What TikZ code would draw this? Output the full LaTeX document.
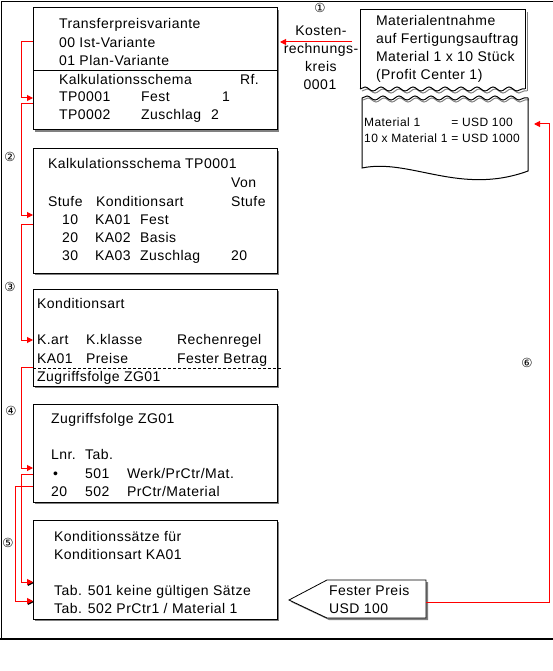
\documentclass[tikz,border=0pt]{standalone}
\usepackage{fontspec}
\setmainfont{Liberation Sans}[LetterSpace=3.5]
\newfontfamily\dejavu{DejaVu Sans}
\usetikzlibrary{arrows.meta,shadows,decorations.pathmorphing}
\definecolor{arrred}{RGB}{255,0,0}
\definecolor{shgray}{RGB}{128,128,128}
\begin{document}
\begin{tikzpicture}[x=1pt,y=-1pt,
 box/.style={draw=black, line width=1pt, fill=white, anchor=north west, inner sep=0pt, outer sep=0pt,
   drop shadow={shadow xshift=2pt, shadow yshift=-2pt, fill=shgray, opacity=1}},
 txt/.style={anchor=west, inner sep=0pt, outer sep=0pt, font=\fontsize{14}{18}\selectfont, text height=11pt, text depth=2pt},
 ctxt/.style={txt, anchor=center},
 num/.style={inner sep=0pt, font=\dejavu\fontsize{12.5}{12.5}\selectfont},
 conn/.style={draw=arrred, line width=1pt, -{Triangle[length=6pt,width=6pt]}},
 connsh/.style={draw=black, line width=1pt, -{Triangle[length=6pt,width=6pt]}, transform canvas={xshift=0.9pt,yshift=-0.9pt}},
 edge/.style={draw=black, line width=1pt},
 zig/.style={decorate, decoration={snake, segment length=16pt, amplitude=2pt}},
 ]
\useasboundingbox (0,0) rectangle (553,671);
% outer frame
\draw[line width=1pt] (1.5,639) -- (1.5,1.5) -- (553,1.5);
\draw[line width=2pt] (0,639) -- (553,639);

% boxes
\node[box, minimum width=244pt, minimum height=122pt] (b1) at (33,8) {};
\node[box, minimum width=244pt, minimum height=124pt] (b2) at (33,149) {};
\node[box, minimum width=244pt, minimum height=97pt] (b3) at (33,289) {};
\node[box, minimum width=244pt, minimum height=98pt] (b4) at (33,404) {};
\node[box, minimum width=244pt, minimum height=99pt] (b5) at (33,520) {};
\draw[edge] (33,71) -- (277,71);
\draw[line width=0.8pt, dash pattern=on 3pt off 2pt] (33,368) -- (281,368);

% box 1 text
\node[txt] (t11) at (59,24) {Transferpreisvariante};
\node[txt] (t12) at (59,43) {00 Ist-Variante};
\node[txt] (t13) at (59,61) {01 Plan-Variante};
\node[txt] (t14) at (59,80) {Kalkulationsschema};
\node[txt] (t15) at (240,80) {Rf.};
\node[txt] (t16) at (59,97) {TP0001};
\node[txt] (t17) at (141,97) {Fest};
\node[txt] (t18) at (222,97) {1};
\node[txt] (t19) at (59,115) {TP0002};
\node[txt] (t1a) at (141,115) {Zuschlag};
\node[txt] (t1b) at (211,115) {2};

% box 2 text
\node[txt] (t21) at (48,164) {Kalkulationsschema TP0001};
\node[txt] (t22) at (231,183) {Von};
\node[txt] (t23) at (48,202) {Stufe};
\node[txt] (t24) at (96,202) {Konditionsart};
\node[txt] (t25) at (231,202) {Stufe};
\node[txt] (t26) at (62,220) {10};
\node[txt] (t27) at (95,220) {KA01};
\node[txt] (t28) at (140,220) {Fest};
\node[txt] (t29) at (62,238) {20};
\node[txt] (t2a) at (95,238) {KA02};
\node[txt] (t2b) at (140,238) {Basis};
\node[txt] (t2c) at (62,256) {30};
\node[txt] (t2d) at (95,256) {KA03};
\node[txt] (t2e) at (140,256) {Zuschlag};
\node[txt] (t2f) at (231,256) {20};

% box 3 text
\node[txt] (t31) at (37,304) {Konditionsart};
\node[txt] (t32) at (37,340) {K.art};
\node[txt] (t33) at (86,340) {K.klasse};
\node[txt] (t34) at (177,340) {Rechenregel};
\node[txt] (t35) at (37,359) {KA01};
\node[txt] (t36) at (86,359) {Preise};
\node[txt] (t37) at (177,359) {Fester Betrag};
\node[txt] (t38) at (37,377) {Zugriffsfolge ZG01};

% box 4 text
\node[txt] (t41) at (51,419) {Zugriffsfolge ZG01};
\node[txt] (t42) at (51,455) {Lnr.};
\node[txt] (t43) at (85,455) {Tab.};
\node[txt] (t44) at (53,474) {•};
\node[txt] (t45) at (85,474) {501};
\node[txt] (t46) at (127,474) {Werk/PrCtr/Mat.};
\node[txt] (t47) at (51,492) {20};
\node[txt] (t48) at (85,492) {502};
\node[txt] (t49) at (127,492) {PrCtr/Material};

% box 5 text
\node[txt] (t51) at (54,537) {Konditionssätze für};
\node[txt] (t52) at (54,555) {Konditionsart KA01};
\node[txt] (t53) at (54,591) {Tab. 501 keine gültigen Sätze};
\node[txt] (t54) at (54,609) {Tab. 502 PrCtr1 / Material 1};

% document (torn paper)
\draw[shgray, line width=1pt] (527,12) -- (527,91);
\draw[shgray, line width=1pt, zig] (362,91) -- (527,91);
\draw[edge] (360,89) -- (360,10) -- (525,10) -- (525,89);
\draw[line width=1pt, zig] (360,89) -- (525,89);
\draw[shgray, line width=1pt, zig] (363,100) -- (529,100);
\draw[line width=1pt, zig] (362,98) -- (528,98);
\draw[edge] (362,98) -- (362,168) .. controls (410,158) and (460,196) .. (528,171) -- (528,98);
\node[txt] (d1) at (376,21) {Materialentnahme};
\node[txt] (d2) at (376,39) {auf Fertigungsauftrag};
\node[txt] (d3) at (376,57) {Material 1 x 10 Stück};
\node[txt] (d4) at (376,75) {(Profit Center 1)};
\node[anchor=west, inner sep=0pt, font=\fontsize{12}{16}\selectfont] (dm) at (364,131)
  {\begin{tabular}{@{}l@{ }l@{}}Material 1 & = USD 100\\ 10 x Material 1 & = USD 1000\end{tabular}};

% Kostenrechnungskreis
\node[ctxt] (k1) at (321,31) {Kosten-};
\node[ctxt] (k2) at (321,49) {rechnungs-};
\node[ctxt] (k3) at (321,67) {kreis};
\node[ctxt] (k4) at (320,85) {0001};

% Fester Preis
\draw[line width=0.8pt, fill=white, drop shadow={shadow xshift=2pt, shadow yshift=-2pt, fill=shgray, opacity=1}]
  (289,600) -- (327,580) -- (426,580) -- (426,618) -- (327,618) -- cycle;
\node[txt] (fp1) at (329,591) {Fester Preis};
\node[txt] (fp2) at (329,609) {USD 100};

% circled numbers
\node[num] (n1) at (320,8) {①};
\node[num] (n2) at (10,157) {②};
\node[num] (n3) at (10,287) {③};
\node[num] (n4) at (11,411) {④};
\node[num] (n5) at (8,543) {⑤};
\node[num] (n6) at (527,363) {⑥};

% connector coordinates
\coordinate (ka) at (352,42);
\coordinate (kb) at (280,42);
\coordinate (p1s) at (33,42);  \coordinate (p1e) at (33,98);
\coordinate (p2s) at (33,104); \coordinate (p2e) at (33,215);
\coordinate (p3s) at (33,224); \coordinate (p3e) at (33,340);
\coordinate (p4s) at (33,367); \coordinate (p4e) at (33,468);
\coordinate (p5s) at (33,474); \coordinate (p5e) at (33,582);
\coordinate (p6s) at (33,486); \coordinate (p6e) at (33,601);
\coordinate (fpr) at (426,602);
\coordinate (docr) at (534,124);

% connectors
\draw[conn] (ka) -- (kb);
\draw[conn] (p1s) -- ++(-12,0) |- (p1e);
\draw[conn] (p2s) -- ++(-12,0) |- (p2e);
\draw[conn] (p3s) -- ++(-12,0) |- (p3e);
\draw[conn] (p4s) -- ++(-12,0) |- (p4e);
\draw[connsh] (p5s) -- ++(-12,0) |- (p5e);
\draw[connsh] (p6s) -- ++(-18,0) |- (p6e);
\draw[conn] (p5s) -- ++(-12,0) |- (p5e);
\draw[conn] (p6s) -- ++(-18,0) |- (p6e);
\draw[conn] (fpr) -- ++(123,0) |- (docr);
\end{tikzpicture}
\end{document}
